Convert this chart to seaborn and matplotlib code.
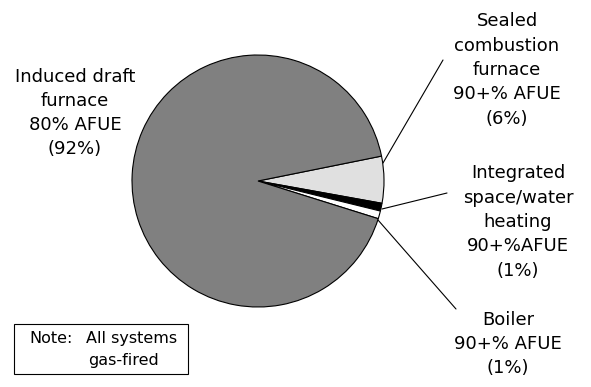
import matplotlib
matplotlib.use("Agg")
import matplotlib.pyplot as plt
import seaborn as sns

sns.set_theme(style="white")
plt.rcParams['font.family'] = ['DejaVu Sans']

# Data
categories = ["Sealed combustion furnace", "Integrated space/water heating", "Boiler", "Induced draft furnace"]
shares = [6, 1, 1, 92]
colors = ["#e0e0e0", "#000000", "#ffffff", "#808080"]
labels = [
    "Sealed\ncombustion\nfurnace\n90+% AFUE\n(6%)",
    "Integrated\nspace/water\nheating\n90+%AFUE\n(1%)",
    "Boiler\n90+% AFUE\n(1%)",
    "Induced draft\nfurnace\n80% AFUE\n(92%)",
]

W, H = 591, 387
fig = plt.figure(figsize=(W / 100, H / 100), dpi=100)
ax = fig.add_axes([0, 0, 1, 1])

def Y(y):
    return H - y

cx, cy, r = 258, 181, 126
ax.pie(shares, colors=colors, startangle=11.4, counterclock=False,
       center=(cx, Y(cy)), radius=r, frame=True,
       wedgeprops=dict(edgecolor="black", linewidth=0.8))
ax.set_xlim(0, W)
ax.set_ylim(0, H)
ax.set_aspect("equal")
ax.axis("off")

fs = 13
kw = dict(fontsize=fs, ha="center", va="center", linespacing=1.45, color="black")
ax.text(507, Y(70), labels[0], **kw)
ax.text(518, Y(222), labels[1], **kw)
ax.text(508, Y(344), labels[2], **kw)
ax.text(75, Y(113), labels[3], **kw)

# leader lines
lines = [((383, 163), (443, 60)), ((382, 209), (447, 193)), ((378, 220), (456, 309))]
for (x0, y0), (x1, y1) in lines:
    ax.plot([x0, x1], [Y(y0), Y(y1)], color="black", lw=0.8)

# note box
ax.add_patch(plt.Rectangle((14, Y(374)), 174, 50, fill=False, edgecolor="black", lw=0.8))
nkw = dict(fontsize=11.5, ha="left", va="baseline", color="black")
ax.text(29, Y(343), "Note:", **nkw)
ax.text(86, Y(343), "All systems", **nkw)
ax.text(88, Y(365), "gas-fired", **nkw)

fig.savefig("out.png", dpi=100)
